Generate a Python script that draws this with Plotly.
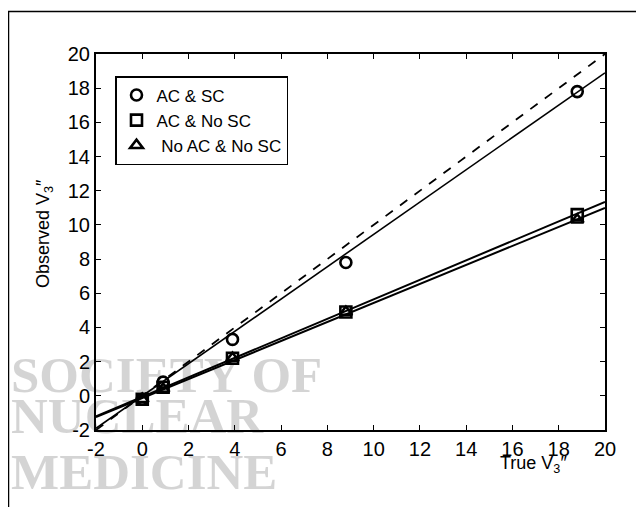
import plotly.graph_objects as go

# ---- data ----
true_v3 = [0.0, 0.9, 3.9, 8.8, 18.8]
ac_sc = [-0.2, 0.8, 3.3, 7.8, 17.8]
ac_nosc = [-0.2, 0.5, 2.2, 4.9, 10.6]
noac_nosc = [-0.2, 0.4, 2.2, 4.9, 10.3]

# fitted lines (endpoints at x=-2 and x=20)
fit_x = [-2, 20]
fit_ac_sc = [-1.9, 18.9]
fit_ac_nosc = [-1.2, 11.35]
fit_noac_nosc = [-1.25, 11.0]
identity = [-2, 20]

x_ticks = [-2, 0, 2, 4, 6, 8, 10, 12, 14, 16, 18, 20]
y_ticks = [-2, 0, 2, 4, 6, 8, 10, 12, 14, 16, 18, 20]

# page has an 8px body margin, so figure is drawn 8px in from top-left
OFF = 8
W, H = 644 - OFF, 507 - OFF
ML, MR, MT, MB = 88, 39, 46, 77
PW, PH = W - ML - MR, H - MT - MB

fig = go.Figure()

fig.add_trace(go.Scatter(x=fit_x, y=identity, mode="lines",
                         line=dict(color="black", width=1.8, dash="dash"), showlegend=False))
for fy, w in [(fit_ac_sc, 1.6), (fit_ac_nosc, 2.0), (fit_noac_nosc, 2.0)]:
    fig.add_trace(go.Scatter(x=fit_x, y=fy, mode="lines",
                             line=dict(color="black", width=w), showlegend=False))

mk = dict(size=11, color="black", line=dict(width=2.6, color="black"))
fig.add_trace(go.Scatter(x=true_v3, y=ac_sc, mode="markers", name="AC & SC",
                         marker=dict(symbol="circle-open", **mk)))
fig.add_trace(go.Scatter(x=true_v3, y=ac_nosc, mode="markers", name="AC & No SC",
                         marker=dict(symbol="square-open", **mk)))
fig.add_trace(go.Scatter(x=true_v3, y=noac_nosc, mode="markers", name=" No AC & No SC",
                         marker=dict(symbol="triangle-up-open", **mk)))

def px(xp):
    return (xp - OFF - ML) / PW

def py(yp):
    return (H - MB - (yp - OFF)) / PH

# outer border
fig.add_shape(type="rect", xref="paper", yref="paper",
              x0=px(8.5), x1=px(670), y0=py(530), y1=py(11.5),
              line=dict(color="black", width=1.5), layer="below")

# watermark
for txt, yp in [("SOCIETY OF", 375), ("NUCLEAR", 416), ("MEDICINE", 472)]:
    fig.add_annotation(text="<b>" + txt + "</b>", xref="paper", yref="paper", x=px(9), y=py(yp),
                       xanchor="left", yanchor="middle", showarrow=False,
                       font=dict(family="Liberation Serif", size=51, color="rgba(0,0,0,0.17)"))

# axis titles
fig.add_annotation(text="True V<sub>3</sub>″", xref="paper", yref="paper",
                   x=px(533), y=py(464), xanchor="center", yanchor="middle", showarrow=False,
                   font=dict(family="Liberation Sans", size=18, color="black"))
fig.add_annotation(text="Observed V<sub>3</sub>″", xref="paper", yref="paper",
                   x=px(44), y=py(234), xanchor="center", yanchor="middle", showarrow=False,
                   textangle=-90,
                   font=dict(family="Liberation Sans", size=18, color="black"))

axis_common = dict(
    showline=True, linecolor="black", linewidth=2, mirror="ticks",
    ticks="inside", ticklen=5, tickcolor="black", tickwidth=1,
    showgrid=False, zeroline=False,
    tickfont=dict(family="Liberation Sans", size=20, color="black"),
)

fig.update_layout(
    width=W, height=H,
    margin=dict(l=ML, r=MR, t=MT, b=MB),
    paper_bgcolor="white", plot_bgcolor="rgba(0,0,0,0)",
    xaxis=dict(range=[-2, 20], tickvals=x_ticks, ticktext=[str(v) for v in x_ticks],
               ticklabelstandoff=0, **axis_common),
    yaxis=dict(range=[-2, 20], tickvals=y_ticks, ticktext=[str(v) for v in y_ticks],
               ticklabelstandoff=0, **axis_common),
    legend=dict(x=px(115), y=py(76), xanchor="left", yanchor="top",
                bordercolor="black", borderwidth=1.5, bgcolor="white",
                font=dict(family="Liberation Sans", size=17, color="black"),
                itemwidth=30, tracegroupgap=0),
    showlegend=True,
)

fig.write_html("out.html")
